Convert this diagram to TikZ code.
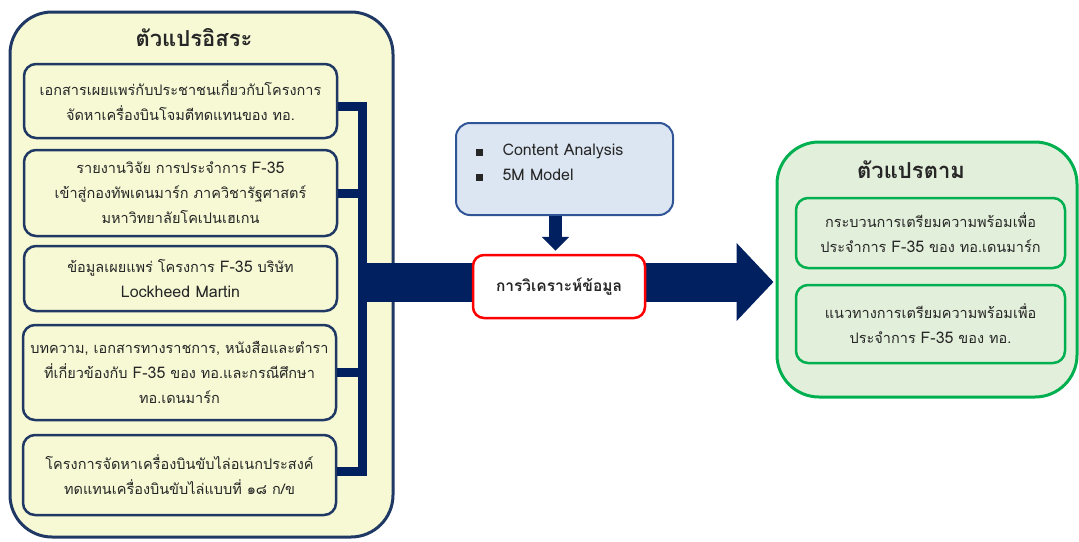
\documentclass[tikz,border=0pt]{standalone}
\usepackage{fontspec}
\setmainfont[Script=Thai]{Loma}
\usetikzlibrary{arrows.meta}

\definecolor{navy}{HTML}{002060}
\definecolor{edgeblue}{HTML}{1F3864}
\definecolor{paleyellow}{HTML}{F6F9D4}
\definecolor{paleblue}{HTML}{DCE6F2}
\definecolor{midblue}{HTML}{2F5597}
\definecolor{palegreen}{HTML}{E2EFDA}
\definecolor{leafgreen}{HTML}{00B050}
\definecolor{inkgray}{HTML}{262626}

% Latin words are set a little larger than Loma's own Latin
\newcommand\latn[1]{{\fontsize{16}{25}\selectfont #1}}

\pgfdeclarelayer{back}
\pgfdeclarelayer{mid}
\pgfsetlayers{back,mid,main}

\begin{document}
\begin{tikzpicture}[
  x=1pt, y=-1pt,
  font=\fontsize{14.5}{25}\selectfont, text=inkgray,
  panel/.style={draw, line width=3pt, rounded corners=42pt},
  indep/.style={panel, draw=edgeblue, fill=paleyellow, minimum width=383pt, minimum height=525pt},
  dep/.style={panel, draw=leafgreen, fill=palegreen, minimum width=300pt, minimum height=255pt},
  heading/.style={font=\fontsize{22}{26}\selectfont\bfseries},
  srcbox/.style={draw=edgeblue, line width=2.5pt, fill=paleyellow, rounded corners=12pt,
                 minimum width=313pt, align=center, inner sep=0pt},
  resbox/.style={draw=leafgreen, line width=2.5pt, rounded corners=12pt,
                 minimum width=269pt, align=center, inner sep=0pt},
  barline/.style={draw=navy, line width=9pt},
  bigarrow/.style={draw=navy, line width=39pt, -{Triangle[length=37pt,width=76pt]}},
  downarrow/.style={draw=navy, line width=13pt, -{Triangle[length=14pt,width=27pt]}}
]
\useasboundingbox (0,0) rectangle (1079,541);

% ── Panels ────────────────────────────────────────────────
\begin{pgfonlayer}{back}
\node[indep] (lhs) at (201.5,274.5) {};
\node[dep]   (rhs) at (927,269.5)   {};
\end{pgfonlayer}

\node[heading] (lhstitle) at (194,38)  {ตัวแปรอิสระ};
\node[heading] (rhstitle) at (911,170) {ตัวแปรตาม};

% ── Source documents ──────────────────────────────────────
\node[srcbox, minimum height=74pt] (b1) at (180.5,101)
  {เอกสารเผยแพร่กับประชาชนเกี่ยวกับโครงการ\\จัดหาเครื่องบินโจมตีทดแทนของ ทอ.};
\node[srcbox, minimum height=86pt] (b2) at (180.5,193)
  {รายงานวิจัย การประจำการ \latn{F-35}\\เข้าสู่กองทัพเดนมาร์ก ภาควิชารัฐศาสตร์\\มหาวิทยาลัยโคเปนเฮเกน};
\node[srcbox, minimum height=65pt] (b3) at (180.5,278.5)
  {ข้อมูลเผยแพร่ โครงการ \latn{F-35} บริษัท\\\latn{Lockheed Martin}};
\node[srcbox, minimum height=95pt] (b4) at (179.5,372.5)
  {บทความ, เอกสารทางราชการ, หนังสือและตำรา\\ที่เกี่ยวข้องกับ \latn{F-35} ของ ทอ.และกรณีศึกษา\\ทอ.เดนมาร์ก};
\node[srcbox, minimum height=80pt] (b5) at (179.5,475)
  {โครงการจัดหาเครื่องบินขับไล่อเนกประสงค์\\ทดแทนเครื่องบินขับไล่แบบที่ ๑๘ ก/ข};

% ── Method and analysis ───────────────────────────────────
\node[draw=midblue, line width=2pt, fill=paleblue, rounded corners=14pt,
      minimum width=217pt, minimum height=92pt, inner sep=0pt, text width=217pt,
      font=\fontsize{16}{25}\selectfont]
      (methods) at (564.5,169)
  {\hspace*{20pt}\begin{tabular}{@{}l@{\hspace{20pt}}l@{}}
     \rule{6.5pt}{6.5pt} & Content Analysis\\
     \rule{6.5pt}{6.5pt} & 5M Model\\[12pt]
   \end{tabular}};
\node[draw=red, line width=2.5pt, fill=white, rounded corners=11pt,
      minimum width=172pt, minimum height=63pt, font=\fontsize{15.5}{25}\selectfont\bfseries]
      (analysis) at (559,286.5) {การวิเคราะห์ข้อมูล};

% ── Results ───────────────────────────────────────────────
\node[resbox, minimum height=70pt] (r1) at (930.5,233)
  {กระบวนการเตรียมความพร้อมเพื่อ\\ประจำการ \latn{F-35} ของ ทอ.เดนมาร์ก};
\node[resbox, minimum height=78pt] (r2) at (930.5,324)
  {แนวทางการเตรียมความพร้อมเพื่อ\\ประจำการ \latn{F-35} ของ ทอ.};

% ── Connectors ────────────────────────────────────────────
\coordinate (bar)  at (362.5,0);
\coordinate (flow) at (362.5,282);
\draw[barline] ([yshift=-5pt]b1.east) -| ([yshift=4pt]bar |- b5.east) -- ([yshift=4pt]b5.east);
\foreach \b in {b2,b4}
  \draw[barline] (\b.east) -- (\b.east -| bar);

\begin{pgfonlayer}{mid}
\draw[bigarrow, shorten >=2pt] (flow) -- (flow -| rhs.west);
\end{pgfonlayer}
\draw[downarrow, shorten >=3pt] ([xshift=-3.5pt]analysis.north |- methods.south) -- ([xshift=-3.5pt]analysis.north);

\end{tikzpicture}
\end{document}
